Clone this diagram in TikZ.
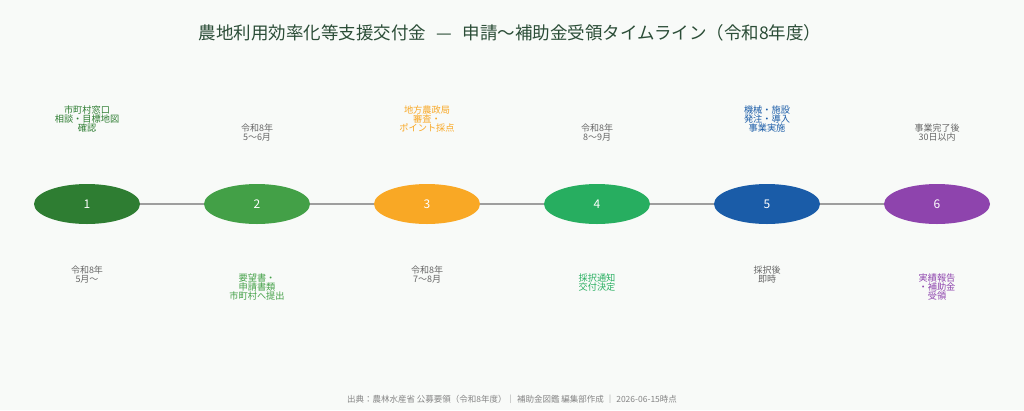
\documentclass[tikz,border=0pt]{standalone}
\usepackage{fontspec}
\setmainfont{Noto Sans CJK JP}
\usetikzlibrary{shapes.geometric}
\definecolor{bg}{HTML}{F8FAF8}
\definecolor{titlec}{HTML}{2B4D37}
\definecolor{c1}{HTML}{2E7D32}
\definecolor{c2}{HTML}{43A047}
\definecolor{c3}{HTML}{F9A825}
\definecolor{c4}{HTML}{27AE60}
\definecolor{c5}{HTML}{1A5CA8}
\definecolor{c6}{HTML}{8E44AD}
\definecolor{grayt}{HTML}{666666}
\definecolor{linec}{HTML}{9E9E9E}
\tikzset{
  stage/.style={ellipse, fill=#1, draw=none, minimum width=106pt, minimum height=40pt, inner sep=0pt, text=white, font=\fontsize{12}{12}\selectfont},
  desc/.style={align=center, text=#1, font=\fontsize{9.2}{9}\selectfont, inner sep=0pt},
  datet/.style={align=center, text=grayt, font=\fontsize{9}{9}\selectfont, inner sep=0pt},
  conn/.style={draw=linec, line width=2pt}
}
\begin{document}
\begin{tikzpicture}[x=1pt,y=-1pt]
\fill[bg] (0,0) rectangle (1024,410);
\useasboundingbox (0,0) rectangle (1024,410);
\node[font=\fontsize{17.5}{18}\selectfont, text=titlec] (title) at (510,33) {農地利用効率化等支援交付金\hspace{0.6em}—\hspace{0.6em}申請〜補助金受領タイムライン（令和8年度）};
\node[stage=c1] (s1) at (87,204) {1};
\node[stage=c2] (s2) at (257,204) {2};
\node[stage=c3] (s3) at (427,204) {3};
\node[stage=c4] (s4) at (597,204) {4};
\node[stage=c5] (s5) at (767,204) {5};
\node[stage=c6] (s6) at (937,204) {6};
\draw[conn] (s1) -- (s2);
\draw[conn] (s2) -- (s3);
\draw[conn] (s3) -- (s4);
\draw[conn] (s4) -- (s5);
\draw[conn] (s5) -- (s6);
% top
\node[desc=c1, anchor=south] (d1) at (87,132) {市町村窓口\\相談・目標地図\\確認};
\node[datet, anchor=south] (t2) at (257,141) {令和8年\\5〜6月};
\node[desc=c3, anchor=south] (d3) at (427,132) {地方農政局\\審査・\\ポイント採点};
\node[datet, anchor=south] (t4) at (597,141) {令和8年\\8〜9月};
\node[desc=c5, anchor=south] (d5) at (767,132) {機械・施設\\発注・導入\\事業実施};
\node[datet, anchor=south] (t6) at (937,141) {事業完了後\\30日以内};
% bottom
\node[datet, anchor=north] (t1) at (87,266) {令和8年\\5月〜};
\node[desc=c2, anchor=north] (d2) at (257,274) {要望書・\\申請書類\\市町村へ提出};
\node[datet, anchor=north] (t3) at (427,266) {令和8年\\7〜8月};
\node[desc=c4, anchor=north] (d4) at (597,274) {採択通知\\交付決定};
\node[datet, anchor=north] (t5) at (767,266) {採択後\\即時};
\node[desc=c6, anchor=north] (d6) at (937,274) {実績報告\\・補助金\\受領};
\node[font=\fontsize{8.5}{9}\selectfont, text=grayt!80] (foot) at (512,399) {出典：農林水産省\ 公募要領（令和8年度）｜\ 補助金図鑑\ 編集部作成\ ｜\ 2026-06-15時点};
\end{tikzpicture}
\end{document}
